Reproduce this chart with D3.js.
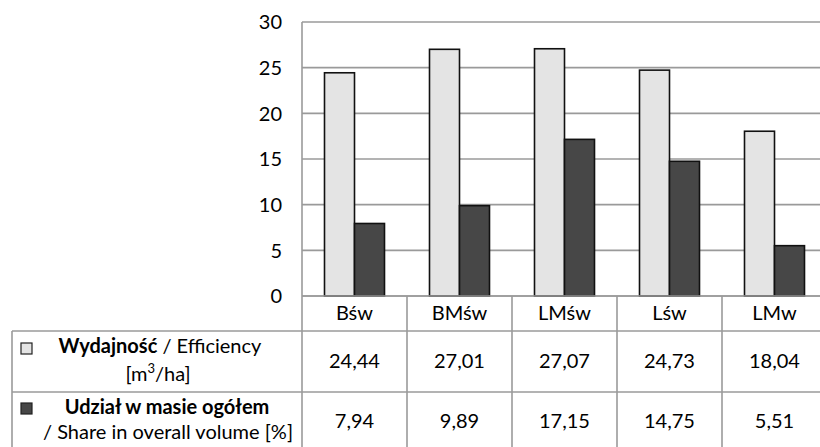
<!DOCTYPE html>
<html>
<head>
<meta charset="utf-8">
<script src="https://cdn.jsdelivr.net/npm/d3@7"></script>
<style>
  body { margin: 0; background: #fff; }
  text { font-family: Lato, "Open Sans", sans-serif; fill: #000; }
</style>
</head>
<body>
<div id="chart"></div>
<script>
// data
var categories = ["Bśw", "BMśw", "LMśw", "Lśw", "LMw"];
var efficiency = [24.44, 27.01, 27.07, 24.73, 18.04];
var share = [7.94, 9.89, 17.15, 14.75, 5.51];
var valueLabelsEff = ["24,44", "27,01", "27,07", "24,73", "18,04"];
var valueLabelsShare = ["7,94", "9,89", "17,15", "14,75", "5,51"];
var yTicks = [0, 5, 10, 15, 20, 25, 30];
var seriesNames = ["eff", "share"];
var seriesColors = ["#e4e4e4", "#474747"];

var width = 820, height = 447;
var fontSize = 20;
var gridColor = "#9a9a9a";

var svg = d3.select("#chart")
  .append("svg")
  .attr("width", width).attr("height", height);

var y = d3.scaleLinear().domain([0, 30]).range([296, 22]);
var x0 = d3.scaleBand().domain(categories).range([302, 827]);
var x1 = d3.scaleBand().domain(seriesNames)
  .range([0, x0.bandwidth()])
  .paddingInner(0).paddingOuter(0.75);

// gridlines
svg.append("g")
  .selectAll("line")
  .data(yTicks)
  .join("line")
  .attr("x1", 302).attr("x2", 827)
  .attr("y1", d => y(d)).attr("y2", d => y(d))
  .attr("stroke", gridColor).attr("stroke-width", 1.6);

// y axis line
svg.append("line")
  .attr("x1", 302).attr("x2", 302)
  .attr("y1", y(30)).attr("y2", y(0))
  .attr("stroke", gridColor).attr("stroke-width", 1.6);

// tick labels
svg.append("g")
  .selectAll("text")
  .data(yTicks)
  .join("text")
  .attr("x", 282)
  .attr("y", d => y(d))
  .attr("dy", "0.36em")
  .attr("text-anchor", "end")
  .attr("font-size", fontSize)
  .text(d => d);

// bars
var rows = categories.map((c, i) => ({cat: c, values: [efficiency[i], share[i]]}));
var groups = svg.append("g")
  .selectAll("g")
  .data(rows)
  .join("g")
  .attr("transform", d => "translate(" + x0(d.cat) + ",0)");

groups.selectAll("rect")
  .data(d => d.values.map((v, j) => ({key: seriesNames[j], v: v, j: j})))
  .join("rect")
  .attr("x", d => x1(d.key))
  .attr("width", x1.bandwidth())
  .attr("y", d => y(d.v))
  .attr("height", d => y(0) - y(d.v))
  .attr("fill", d => seriesColors[d.j])
  .attr("stroke", "#111")
  .attr("stroke-width", 1.6);

// data table
var tableLeft = 12, tableRight = 827;
var rowY = [296, 331, 392, 453];
var table = svg.append("g");

// horizontal lines
table.append("line")
  .attr("x1", 302).attr("x2", tableRight)
  .attr("y1", rowY[0]).attr("y2", rowY[0])
  .attr("stroke", gridColor).attr("stroke-width", 1.6);
[rowY[1], rowY[2], rowY[3]].forEach(function(yy) {
  table.append("line")
    .attr("x1", tableLeft).attr("x2", tableRight)
    .attr("y1", yy).attr("y2", yy)
    .attr("stroke", gridColor).attr("stroke-width", 1.6);
});

// vertical lines
var colEdges = categories.map(c => x0(c)).concat([x0.range()[1]]);
table.selectAll(".vline")
  .data(colEdges)
  .join("line")
  .attr("class", "vline")
  .attr("x1", d => d).attr("x2", d => d)
  .attr("y1", rowY[0]).attr("y2", rowY[3])
  .attr("stroke", gridColor).attr("stroke-width", 1.6);
table.append("line")
  .attr("x1", tableLeft).attr("x2", tableLeft)
  .attr("y1", rowY[1]).attr("y2", rowY[3])
  .attr("stroke", gridColor).attr("stroke-width", 1.6);

// category names
table.selectAll(".cat")
  .data(categories)
  .join("text")
  .attr("class", "cat")
  .attr("x", d => x0(d) + x0.bandwidth() / 2)
  .attr("y", 320)
  .attr("text-anchor", "middle")
  .attr("font-size", fontSize)
  .text(d => d);

// values
table.selectAll(".v1")
  .data(valueLabelsEff)
  .join("text")
  .attr("class", "v1")
  .attr("x", (d, i) => x0(categories[i]) + x0.bandwidth() / 2)
  .attr("y", 368)
  .attr("text-anchor", "middle")
  .attr("font-size", fontSize)
  .text(d => d);

table.selectAll(".v2")
  .data(valueLabelsShare)
  .join("text")
  .attr("class", "v2")
  .attr("x", (d, i) => x0(categories[i]) + x0.bandwidth() / 2)
  .attr("y", 428)
  .attr("text-anchor", "middle")
  .attr("font-size", fontSize)
  .text(d => d);

// legend keys
[[343, 0], [403, 1]].forEach(function(k) {
  table.append("rect")
    .attr("x", 21).attr("y", k[0])
    .attr("width", 11).attr("height", 11)
    .attr("fill", seriesColors[k[1]])
    .attr("stroke", "#222").attr("stroke-width", 1.2);
});

// row labels
var t1 = table.append("text")
  .attr("x", 160).attr("y", 353)
  .attr("text-anchor", "middle")
  .attr("font-size", fontSize);
t1.append("tspan").attr("font-weight", "bold").text("Wydajność");
t1.append("tspan").text(" / Efficiency");

var t2 = table.append("text")
  .attr("x", 158).attr("y", 381)
  .attr("text-anchor", "middle")
  .attr("font-size", fontSize);
t2.append("tspan").text("[m");
t2.append("tspan").attr("font-size", 13).attr("dy", -8).text("3");
t2.append("tspan").attr("dy", 8).text("/ha]");

table.append("text")
  .attr("x", 167).attr("y", 414)
  .attr("text-anchor", "middle")
  .attr("font-size", fontSize)
  .attr("font-weight", "bold")
  .text("Udział w masie ogółem");

table.append("text")
  .attr("x", 168).attr("y", 439)
  .attr("text-anchor", "middle")
  .attr("font-size", fontSize)
  .text("/ Share in overall volume [%]");
</script>
</body>
</html>
